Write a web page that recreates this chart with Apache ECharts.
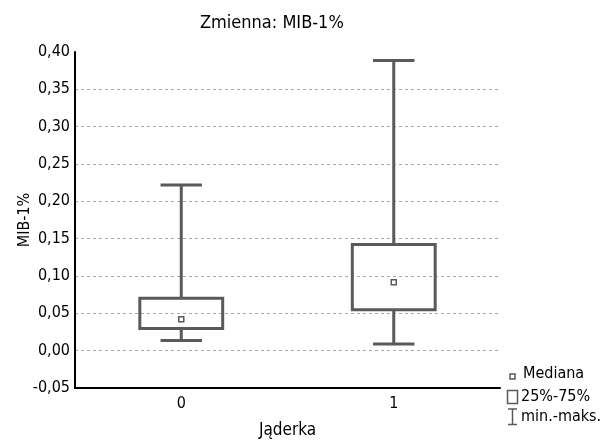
<!DOCTYPE html>
<html>
<head>
<meta charset="utf-8">
<script src="https://cdn.jsdelivr.net/npm/echarts@6/dist/echarts.min.js"></script>
<style>
  html, body { margin: 0; padding: 0; background: #fff; }
  #chart { width: 614px; height: 444px; }
</style>
</head>
<body>
<div id="chart"></div>
<script>
const categories = ['0', '1']
const mins = [0.0137, 0.0089]
const q1s = [0.0296, 0.0548]
const medians = [0.042, 0.0915]
const q3s = [0.0703, 0.1423]
const maxs = [0.222, 0.3887]
const yTicks = { min: -0.05, max: 0.40, step: 0.05 }

const font = "'Liberation Sans Narrow', 'DejaVu Sans Condensed', sans-serif"
const ink = '#5a5a5a'
const boxRatio = 0.39

const fmt = v => v.toFixed(2).replace('.', ',')

const boxData = categories.map((c, i) => [i, mins[i], q1s[i], q3s[i], maxs[i]])

function renderWhisker(params, api){
  let x = api.value(0)
  let bw = api.size([1, 0])[0] * boxRatio
  let cw = bw / 2
  let pMin = api.coord([x, api.value(1)])
  let pQ1 = api.coord([x, api.value(2)])
  let pQ3 = api.coord([x, api.value(3)])
  let pMax = api.coord([x, api.value(4)])
  let style = { stroke: ink, lineWidth: 3 }
  let line = (x1, y1, x2, y2) => ({ type: 'line', shape: { x1, y1, x2, y2 }, style })
  return {
    type: 'group',
    children: [
      line(pMax[0], pMax[1], pQ3[0], pQ3[1]),
      line(pQ1[0], pQ1[1], pMin[0], pMin[1]),
      line(pMax[0] - cw / 2, pMax[1], pMax[0] + cw / 2, pMax[1]),
      line(pMin[0] - cw / 2, pMin[1], pMin[0] + cw / 2, pMin[1])
    ]
  }
}

function renderBox(params, api){
  let x = api.value(0)
  let bw = api.size([1, 0])[0] * boxRatio
  let pQ1 = api.coord([x, api.value(2)])
  let pQ3 = api.coord([x, api.value(3)])
  return {
    type: 'rect',
    shape: { x: pQ3[0] - bw / 2, y: pQ3[1], width: bw, height: pQ1[1] - pQ3[1] },
    style: { fill: 'none', stroke: ink, lineWidth: 3 }
  }
}

const legendItems = [
  { type: 'rect', shape: { x: 510, y: 374, width: 5, height: 5 }, style: { fill: '#fff', stroke: ink, lineWidth: 1.5 } },
  { type: 'text', x: 523, y: 374, style: { text: 'Mediana', font: '16px ' + font, fill: '#000', verticalAlign: 'middle' } },
  { type: 'rect', shape: { x: 507.5, y: 390.5, width: 10, height: 13 }, style: { fill: 'none', stroke: ink, lineWidth: 1.5 } },
  { type: 'text', x: 521, y: 397, style: { text: '25%-75%', font: '16px ' + font, fill: '#000', verticalAlign: 'middle' } },
  { type: 'polyline', shape: { points: [[508, 409], [517, 409]] }, style: { stroke: ink, lineWidth: 1.5 } },
  { type: 'polyline', shape: { points: [[512.5, 409], [512.5, 424.5]] }, style: { stroke: ink, lineWidth: 1.5 } },
  { type: 'polyline', shape: { points: [[508, 424.5], [517, 424.5]] }, style: { stroke: ink, lineWidth: 1.5 } },
  { type: 'text', x: 521, y: 417, style: { text: 'min.-maks.', font: '16px ' + font, fill: '#000', verticalAlign: 'middle' } }
]

const option = {
  animation: false,
  backgroundColor: '#fff',
  textStyle: { fontFamily: font },
  title: {
    text: 'Zmienna: MIB-1%',
    left: 195,
    top: 9,
    textStyle: { fontFamily: font, fontSize: 18, fontWeight: 'normal', color: '#000' }
  },
  grid: { left: 75, right: 114, top: 52, bottom: 53, containLabel: false },
  xAxis: {
    type: 'category',
    data: categories,
    name: 'Jąderka',
    nameLocation: 'middle',
    nameGap: 34,
    nameTextStyle: { fontFamily: font, fontSize: 17, color: '#000' },
    axisLine: { onZero: false, lineStyle: { color: '#000', width: 2 } },
    axisTick: { alignWithLabel: true, length: 6, lineStyle: { color: '#000', width: 1.5 } },
    axisLabel: { margin: 8, fontFamily: font, fontSize: 16, color: '#000' },
    splitLine: { show: false }
  },
  yAxis: {
    type: 'value',
    min: yTicks.min,
    max: yTicks.max,
    interval: yTicks.step,
    name: 'MIB-1%',
    nameLocation: 'middle',
    nameGap: 42,
    nameMoveOverlap: false,
    nameTextStyle: { fontFamily: font, fontSize: 16, color: '#000' },
    axisLine: { show: true, lineStyle: { color: '#000', width: 2 } },
    axisTick: { show: false },
    axisLabel: { margin: 5, fontFamily: font, fontSize: 16, color: '#000', formatter: fmt },
    splitLine: {
      show: true,
      showMinLine: false,
      showMaxLine: false,
      lineStyle: { color: '#a8a8a8', type: [3, 3], width: 1 }
    }
  },
  series: [
    {
      name: 'min.-maks.',
      type: 'custom',
      renderItem: renderWhisker,
      encode: { x: 0, y: [1, 2, 3, 4] },
      data: boxData,
      z: 3
    },
    {
      name: '25%-75%',
      type: 'custom',
      renderItem: renderBox,
      encode: { x: 0, y: [1, 2, 3, 4] },
      data: boxData,
      z: 3
    },
    {
      name: 'Mediana',
      type: 'scatter',
      data: medians.map((m, i) => [i, m]),
      symbol: 'rect',
      symbolSize: 5,
      itemStyle: { color: '#fff', borderColor: ink, borderWidth: 1.5, opacity: 1 },
      z: 5
    }
  ],
  graphic: legendItems
}

let chart = echarts.init(document.getElementById('chart'))
chart.setOption(option)
</script>
</body>
</html>
